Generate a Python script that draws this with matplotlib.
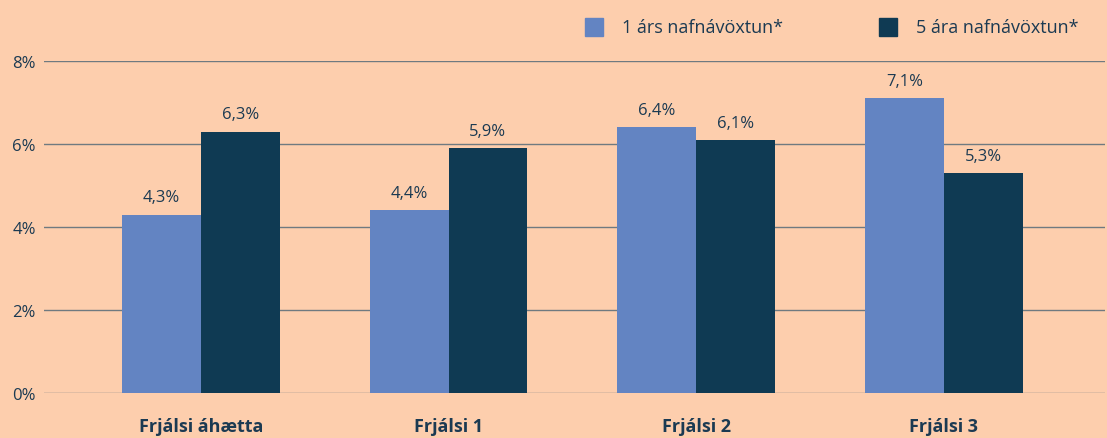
import matplotlib
matplotlib.use("Agg")
import matplotlib.pyplot as plt
import numpy as np

categories = ["Frjálsi áhætta", "Frjálsi 1", "Frjálsi 2", "Frjálsi 3"]
series_names = ["1 árs nafnávöxtun*", "5 ára nafnávöxtun*"]
one_year = [4.3, 4.4, 6.4, 7.1]
five_year = [6.3, 5.9, 6.1, 5.3]
yticks = [0, 2, 4, 6, 8]

bg = "#FDCEAD"
c1 = "#6384C2"
c2 = "#0F3A53"
txt = "#1B3A52"
grid = "#6F7A80"

plt.rcParams['font.family'] = ['Open Sans', 'DejaVu Sans']

fig = plt.figure(figsize=(11.07, 4.39), dpi=100, facecolor=bg)
ax = fig.add_axes([44/1107, 45/439, 1061/1107, 332/439], facecolor=bg)

x = np.arange(len(categories))
w = 0.318
b1 = ax.bar(x - w/2, one_year, w, color=c1, label=series_names[0], zorder=3)
b2 = ax.bar(x + w/2, five_year, w, color=c2, label=series_names[1], zorder=3)

for bars, vals in ((b1, one_year), (b2, five_year)):
    for r, v in zip(bars, vals):
        ax.text(r.get_x() + r.get_width()/2, v + 0.22, f"{v:.1f}%".replace(".", ","),
                ha="center", va="bottom", fontsize=12, color=txt)

ax.set_xlim(-0.633, 3.65)
ax.set_ylim(0, 8)
ax.set_yticks(yticks)
ax.set_yticklabels([f"{t}%" for t in yticks], fontsize=12, color=txt)
ax.set_xticks(x)
ax.set_xticklabels(categories, fontsize=13, fontweight="bold", color=txt)
ax.tick_params(axis="y", length=0, pad=6)
ax.tick_params(axis="x", length=0, pad=17)
ax.yaxis.grid(True, color=grid, linewidth=1, zorder=0)
for s in ax.spines.values():
    s.set_visible(False)

# legend
fig.patches.append(plt.Rectangle((585/1107, 1 - 37/439), 18/1107, 18/439,
                                 transform=fig.transFigure, color=c1))
fig.text(622/1107, 1 - 28/439, series_names[0], fontsize=13, color=txt, va="center")
fig.patches.append(plt.Rectangle((879/1107, 1 - 37/439), 18/1107, 18/439,
                                 transform=fig.transFigure, color=c2))
fig.text(916/1107, 1 - 28/439, series_names[1], fontsize=13, color=txt, va="center")

fig.savefig("out.png", dpi=100, facecolor=bg)
